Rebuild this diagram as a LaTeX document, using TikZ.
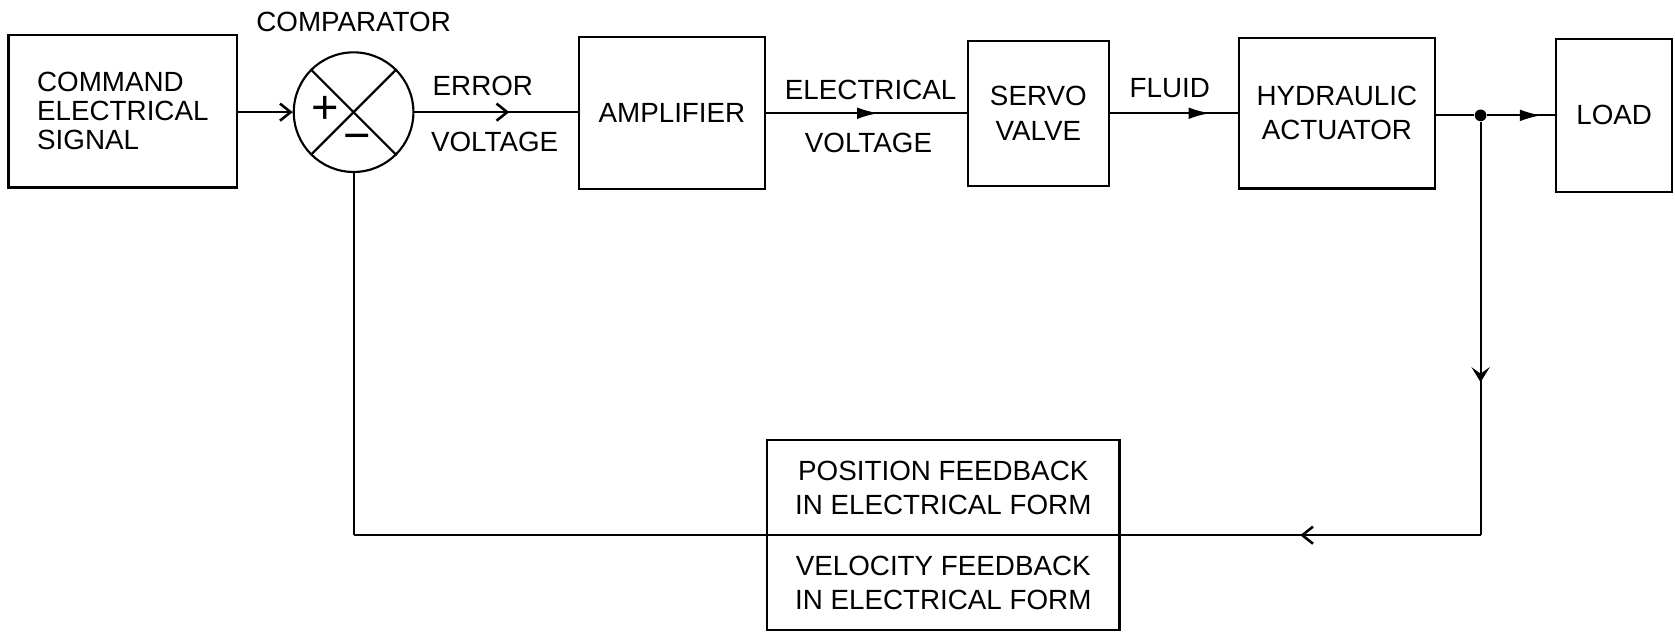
\documentclass[tikz,border=0pt]{standalone}
\usepackage{fontspec}
\setmainfont{Liberation Sans}
\usetikzlibrary{arrows.meta,decorations.markings}
\begin{document}
\begin{tikzpicture}[x=0.5pt,y=-0.5pt,
  blk/.style={draw, line width=1pt, inner sep=0pt, align=center, font=\fontsize{13}{16}\selectfont},
  lbl/.style={inner sep=0pt, font=\fontsize{13}{16}\selectfont},
  sgn/.style={inner sep=0pt, font=\fontsize{22}{22}\selectfont},
  conn/.style={line width=1pt},
  filledmid/.style={postaction={decorate}, decoration={markings, mark=at position #1 with {\arrow{Latex[length=10pt,width=5.5pt]}}}},
  openmid/.style={postaction={decorate}, decoration={markings, mark=at position #1 with {\arrow{Straight Barb[length=5pt,width=8pt,line width=1.2pt]}}}},
  swallowmid/.style={postaction={decorate}, decoration={markings, mark=at position #1 with {\arrow{Stealth[length=7pt,width=8.5pt,inset=3pt]}}}},
]
\useasboundingbox (0,0) rectangle (1568,592);

% blocks
\node[blk, minimum width=107pt, minimum height=71.5pt, align=left, font=\fontsize{13}{13.5}\selectfont] (cmd) at (115,104) {COMMAND\\ELECTRICAL\\SIGNAL};
\node[draw, circle, line width=1pt, minimum size=56pt, inner sep=0pt] (cmp) at (331,105) {};
\node[blk, minimum width=87pt, minimum height=71pt] (amp) at (629,106) {AMPLIFIER};
\node[blk, minimum width=66pt, minimum height=68pt] (srv) at (972,106) {SERVO\\VALVE};
\node[blk, minimum width=91.5pt, minimum height=70.5pt] (hyd) at (1251.5,106) {HYDRAULIC\\ACTUATOR};
\node[blk, minimum width=54.5pt, minimum height=71.5pt] (load) at (1511,108) {LOAD};
\node[blk, minimum width=165pt, minimum height=44.5pt] (fbp) at (883,456.5) {POSITION FEEDBACK\\IN ELECTRICAL FORM};
\node[blk, minimum width=165pt, minimum height=44.5pt] (fbv) at (883,545.5) {VELOCITY FEEDBACK\\IN ELECTRICAL FORM};
\node[circle, fill, inner sep=0pt, minimum size=5.5pt] (dot) at (1386,108) {};

% comparator cross and signs
\draw[conn] (cmp.north west) -- (cmp.south east);
\draw[conn] (cmp.north east) -- (cmp.south west);
\node[sgn] (plus) at (304,103) {+};
\node[sgn] (minus) at (334,134) {−};

% labels
\node[lbl] (lcmp) at (331,21) {COMPARATOR};
\node[lbl] (lerr) at (452,80) {ERROR};
\node[lbl] (lev) at (463,133) {VOLTAGE};
\node[lbl] (lel) at (815,84) {ELECTRICAL};
\node[lbl] (lvv) at (813,134) {VOLTAGE};
\node[lbl] (lfl) at (1095,82) {FLUID};

% connectors
\coordinate (fr) at (1386,501);
\coordinate (fl) at (331,501);
\draw[conn, -{Straight Barb[length=5pt,width=8pt,line width=1.2pt]}] (cmd.east |- cmp) -- (cmp.west);
\draw[conn, openmid=0.58] (cmp.east) -- (cmp.east -| amp.west);
\draw[conn, filledmid=0.56] (amp) -- (srv);
\draw[conn, filledmid=0.78] (srv) -- (hyd);
\draw[conn] (hyd.east |- dot) -- (dot);
\draw[conn, filledmid=0.8] (dot) -- (load.west |- dot);
\draw[conn, swallowmid=0.63] (dot) -- (fr);
\draw[conn, openmid=0.16] (fr) -- (fl);
\draw[conn] (fl) -- (cmp.south);
\end{tikzpicture}
\end{document}
